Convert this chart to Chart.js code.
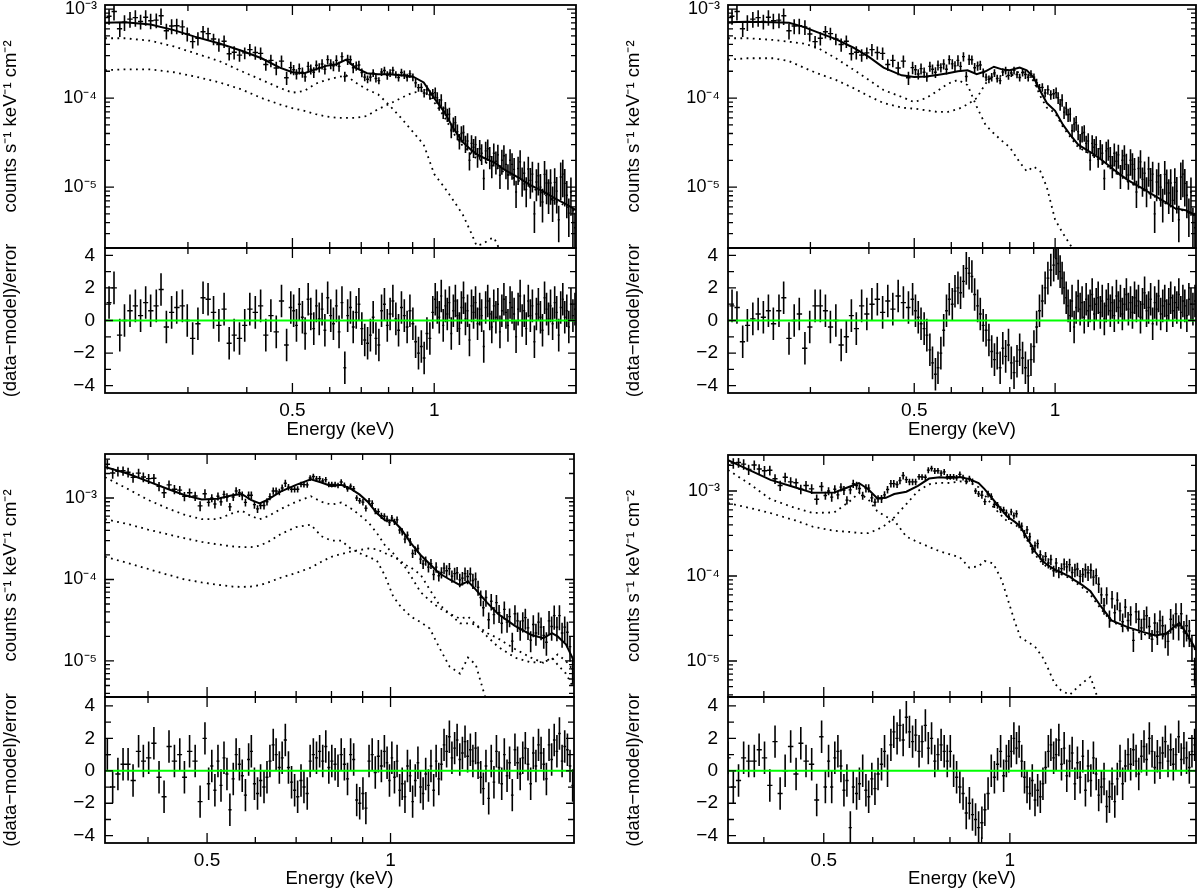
<!DOCTYPE html>
<html>
<head>
<meta charset="utf-8">
<script src="https://cdn.jsdelivr.net/npm/chart.js@4.4.1/dist/chart.umd.min.js"></script>
<style>
  body { margin: 0; background: #fff; width: 1200px; height: 890px; position: relative; overflow: hidden; }
  canvas { position: absolute; }
</style>
</head>
<body>
<script>
// ---- top row spectrum (same data, two models) : counts in units of 1e-4 ----
var topE = [0.204,0.209,0.215,0.220,0.226,0.232,0.238,0.244,0.250,0.257,0.263,0.270,0.277,0.284,0.292,0.299,0.307,0.315,0.323,0.331,0.340,0.349,0.358,0.367,0.376,0.386,0.396,0.406,0.417,0.428,0.439,0.450,0.462,0.474,0.486,0.496,
  0.503,0.510,0.517,0.525,0.532,0.540,0.547,0.555,0.562,0.570,0.578,0.586,0.594,0.603,0.611,0.620,0.628,0.637,0.646,0.655,
  0.664,0.673,0.683,0.692,0.702,0.712,0.722,0.732,0.742,0.752,0.763,0.773,0.784,0.795,0.806,0.817,0.829,0.840,0.852,0.864,
  0.876,0.888,0.901,0.913,0.926,0.939,0.952,0.965,0.979,0.993,
  1.005,1.015,1.025,1.035,1.045,1.056,1.066,1.077,1.087,1.098,1.109,1.120,1.131,1.142,1.154,1.165,1.177,1.188,1.200,1.212,
  1.224,1.236,1.249,1.261,1.274,1.286,1.299,1.312,1.325,1.338,1.352,1.365,1.379,1.392,1.406,1.420,1.434,1.449,1.463,1.478,
  1.492,1.507,1.522,1.537,1.553,1.568,1.584,1.600,1.616,1.632,1.648,1.664,1.681,1.698,1.715,1.732,1.749,1.766,1.784,1.802,
  1.820,1.838,1.856,1.875,1.893,1.912,1.931,1.951,1.970,1.990];
var topCounts = [8.3,9.4,6.0,7.1,7.7,8.0,7.25,8.1,7.4,7.5,8.4,5.7,6.45,6.5,6.3,5.25,4.3,4.7,5.55,5.3,4.6,4.0,4.35,3.15,3.27,3.04,3.22,3.5,3.25,3.18,2.38,2.65,2.18,2.6,1.69,2.2,
  2.08,1.86,2.14,1.95,1.73,2.27,2.11,1.95,2.34,2.2,2.41,2.11,2.7,2.42,2.3,2.65,2.27,2.92,1.75,2.71,
  2.69,2.19,2.3,2.35,1.93,1.72,1.63,1.72,1.92,1.66,1.57,1.96,2.04,1.8,1.91,2.05,1.84,1.7,1.94,1.84,
  1.71,1.87,1.72,1.48,1.31,1.32,1.14,1.24,1.09,1.12,
  1.15,1.01,0.85,0.95,0.695,0.77,0.65,0.66,0.43,0.51,0.53,0.42,0.33,0.4,0.41,0.31,0.33,0.2,0.31,0.28,
  0.3,0.22,0.27,0.24,0.125,0.255,0.27,0.22,0.175,0.24,0.195,0.23,0.136,0.2,0.225,0.18,0.137,0.2,0.18,0.158,
  0.088,0.162,0.192,0.122,0.143,0.094,0.16,0.119,0.14,0.05,0.114,0.134,0.1,0.068,0.139,0.111,0.086,0.111,0.071,0.113,
  0.09,0.043,0.13,0.14,0.11,0.081,0.051,0.088,0.04,0.035];
var topErrPct = [20,21,19,20,20,21,19,20,20,19,21,20,19,20,19,18,
  16,17,16,16,15,17,16,16,17,16,15,16,17,16,15,16,17,16,17,16,
  13,13,14,13,12,13,13,14,13,12,13,13,12,13,13,14,13,12,13,13,12,13,12,12,
  11,10,10,11,10,10,9,10,10,11,10,10,9,10,10,11,10,10,10,11,10,11,11,12,12,13,
  14,15,15,16,16,17,17,18,18,19,19,20,20,21,21,22,22,23,23,24,24,25,25,26,26,27,27,28,28,29,
  29,30,30,31,31,32,32,33,33,34,34,35,35,36,36,37,37,38,38,39,39,40,40,41,41,42,42,43,43,44,
  44,44,45,45,45,45,46,46,47,47];
var residTL = [1.1,2.0,-0.9,0.0,0.6,0.9,0.3,1.1,0.6,0.9,1.9,-0.4,0.5,0.8,0.9,0.0,-1.1,-0.2,1.4,1.3,0.5,-0.3,0.7,-1.4,-0.9,-1.1,-0.3,0.7,0.5,0.9,-0.9,0.3,-0.7,1.2,-1.5,0.8,
  0.6,-0.3,1.0,0.2,-0.8,1.3,0.4,-0.5,0.9,0.1,0.7,-0.6,1.4,0.3,-0.2,0.9,-0.7,1.1,-2.9,0.3,
  0.8,-0.4,0.5,1.0,-0.5,-1.2,-1.4,-0.9,0.2,-1.1,-1.5,0.6,1.0,-0.3,0.4,1.2,0.1,-0.6,0.8,0.3,
  -0.4,0.6,-0.2,-1.3,-2.0,-1.6,-2.3,-0.8,-1.1,0.5,
  1.3,0.8,0.2,1.5,-0.3,0.9,0.4,1.1,-0.8,0.6,1.2,0.3,-0.5,0.8,1.4,0.1,0.6,-1.2,0.9,0.5,
  1.1,-0.2,0.7,0.3,-1.6,0.8,1.2,0.4,-0.4,0.9,0.2,1.0,-0.7,0.6,1.3,0.5,-0.3,1.1,0.8,0.4,
  -1.0,0.7,1.5,0.0,0.6,-0.5,1.2,0.3,0.9,-1.3,0.4,1.0,0.2,-0.6,1.4,0.7,0.1,0.9,-0.2,1.1,
  0.5,-0.9,0.8,1.3,0.2,0.6,-0.4,1.0,0.3,0.7];
var residTR = [0.9,0.8,-1.3,-0.3,0.1,0.4,0.2,0.6,-0.2,0.6,1.4,-1.1,0.0,0.4,-1.7,-0.4,0.9,0.9,0.6,-0.4,0.0,-1.5,-1.0,0.3,-0.5,0.9,0.4,1.0,1.3,0.5,1.2,0.7,1.5,1.1,0.8,1.3,
  0.6,0.2,-0.2,-0.5,-0.9,-1.8,-2.6,-3.3,-2.9,-2.0,-0.6,0.6,1.3,1.0,1.8,2.0,1.7,2.4,3.2,2.9,
  2.7,1.6,0.9,0.4,-0.3,-0.6,-1.2,-1.9,-2.4,-2.0,-2.9,-1.7,-2.2,-1.5,-2.6,-3.2,-2.5,-1.8,-2.3,-2.9,
  -3.4,-2.4,-1.6,-0.4,0.6,1.2,2.0,2.6,3.1,3.4,
  3.8,3.5,3.0,2.6,2.0,1.4,0.9,0.3,1.2,-0.4,0.8,1.5,0.7,1.1,0.2,1.3,0.6,0.9,1.6,0.4,
  1.0,1.4,0.5,1.2,0.1,0.9,1.3,0.6,1.1,0.3,1.5,0.8,1.2,0.4,1.0,1.6,0.7,1.1,0.5,1.4,
  0.9,1.2,0.2,1.0,1.7,0.6,0.8,1.3,-0.2,1.1,0.7,1.5,0.4,0.9,1.2,0.3,1.0,1.4,0.6,1.1,
  0.8,1.6,0.5,1.2,0.9,0.3,1.3,1.0,0.7,1.2];

// ---- bottom row spectrum ----
var botE = [0.343,0.350,0.357,0.364,0.371,0.378,0.386,0.393,0.401,0.409,0.417,0.425,0.433,0.442,0.451,0.459,0.468,0.478,0.487,0.496,
  0.503,0.509,0.515,0.521,0.527,0.533,0.539,0.545,0.552,0.558,0.565,0.571,0.578,0.585,0.591,0.598,0.605,0.612,0.620,0.627,
  0.634,0.642,0.649,0.657,0.664,0.672,0.680,0.688,0.696,0.704,0.713,0.721,0.730,0.738,0.747,0.756,0.765,0.774,0.783,0.792,
  0.801,0.811,0.820,0.830,0.840,0.850,0.860,0.870,0.880,0.890,0.901,0.911,0.922,0.933,0.944,0.955,0.966,0.977,0.987,0.996,
  1.005,1.015,1.025,1.035,1.045,1.056,1.066,1.077,1.087,1.098,1.109,1.120,1.131,1.142,1.154,1.165,1.177,1.188,1.200,1.212,
  1.224,1.236,1.249,1.261,1.274,1.286,1.299,1.312,1.325,1.338,1.352,1.365,1.379,1.392,1.406,1.420,1.434,1.449,1.463,1.478,
  1.492,1.507,1.522,1.537,1.553,1.568,1.584,1.600,1.616,1.632,1.648,1.664,1.681,1.698,1.715,1.732,1.749,1.766,1.784,1.802,
  1.820,1.838,1.856,1.875,1.893,1.912,1.931,1.951,1.970,1.990];
var botCounts = [26.0,20.3,21.3,21.6,20.7,17.9,20.2,18.1,17.3,17.5,13.9,11.6,14.5,12.8,12.5,10.5,11.6,10.6,8.0,11.3,
  8.85,10.0,8.46,10.5,9.0,11.1,10.2,7.8,10.3,12.2,11.6,10.7,8.85,10.8,10.8,8.3,7.36,8.1,8.1,9.0,
  10.4,12.2,12.2,11.9,13.3,15.2,13.6,12.8,12.8,12.8,14.7,14.6,14.5,17.6,18.4,17.2,17.3,16.2,16.8,14.7,
  14.7,14.7,14.3,15.7,14.4,13.0,14.0,13.0,10.0,9.24,8.9,7.5,9.2,8.6,6.94,6.8,6.06,5.98,5.54,5.0,
  5.68,5.11,5.4,4.05,3.86,3.13,3.5,2.9,2.08,2.27,2.4,1.78,1.55,1.7,1.42,1.56,1.15,1.42,1.11,1.22,
  1.38,1.28,1.36,1.1,1.18,1.21,0.99,1.04,1.18,1.09,1.17,0.97,1.01,0.8,0.6,0.45,0.6,0.32,0.54,0.37,
  0.52,0.39,0.29,0.43,0.3,0.35,0.175,0.38,0.31,0.245,0.31,0.34,0.255,0.18,0.28,0.22,0.3,0.26,0.205,0.17,
  0.31,0.265,0.36,0.26,0.36,0.22,0.26,0.225,0.15,0.08];
var botErrPct = [14,15,14,13,14,14,13,14,14,13,13,14,13,13,12,13,13,13,14,13,
  11,11,12,11,11,11,12,11,11,11,11,12,11,11,11,11,11,10,11,10,
  10,10,10,9,10,10,9,9,9,9,8,8,8,8,8,8,8,8,8,8,
  8,8,8,8,8,8,8,8,8,8,9,9,9,9,9,9,9,9,9,9,
  9,9,10,10,10,11,11,11,12,12,12,13,13,13,14,14,15,15,15,16,
  16,17,17,17,18,18,19,19,19,20,20,21,21,21,22,22,23,23,23,24,
  24,25,25,25,26,26,27,27,27,28,28,29,29,29,30,30,31,31,31,32,
  32,33,33,33,34,34,35,35,35,36];
var residBL = [1.0,-1.0,-0.2,0.4,0.4,-0.6,1.2,0.6,0.8,1.7,-0.4,-1.6,1.5,0.6,1.0,-0.4,1.2,0.6,-1.9,2.0,
  -0.8,0.3,-1.2,0.6,-0.9,0.8,-0.2,-2.4,-0.5,1.0,0.4,-0.3,-1.5,0.7,1.2,-0.8,-1.4,-0.6,-1.0,-0.4,
  0.6,1.6,1.0,0.2,0.8,1.9,0.2,-0.7,-1.2,-1.6,-0.6,-1.0,-1.4,0.6,1.0,0.8,1.2,0.6,1.5,0.2,
  0.6,0.4,0.0,1.0,0.4,-0.5,1.0,0.7,-1.8,-2.0,-1.4,-2.3,0.6,1.0,-0.1,0.9,0.3,1.2,0.5,-0.6,
  0.8,-0.4,0.6,-1.2,-0.8,-1.6,0.3,-0.3,-1.9,-0.6,0.5,-1.0,-1.4,-0.2,-0.9,0.3,-1.2,0.6,-0.5,0.4,
  1.6,1.2,2.1,0.8,1.4,1.9,0.7,1.1,1.8,0.9,1.3,0.6,1.4,0.5,-0.4,-1.1,0.3,-1.7,0.6,-0.7,
  1.2,0.2,-0.8,1.0,-0.3,0.5,-1.5,1.3,0.5,-0.2,0.8,1.4,0.4,-0.8,1.1,0.3,1.6,1.1,0.4,-0.5,
  1.6,0.7,1.9,1.2,2.3,0.6,1.5,1.3,0.3,-0.9];
var residBR = [-1.0,0.8,-1.0,-0.6,0.8,0.6,0.6,1.3,0.8,-0.9,1.8,-1.4,0.0,1.5,-0.2,1.7,0.6,0.4,-1.8,2.1,
  -1.0,0.6,-1.0,0.8,1.2,0.3,-1.2,-0.6,-3.5,-1.0,-1.4,-0.8,0.0,-1.2,-1.6,-0.5,-1.1,-0.2,0.4,1.2,
  0.0,1.6,2.4,2.0,2.8,1.9,3.3,2.4,1.8,2.2,1.2,1.8,2.8,1.4,2.0,0.6,1.0,1.6,1.2,0.6,
  1.2,0.0,-0.4,-1.0,-1.4,-2.6,-2.0,-2.7,-3.0,-3.5,-3.2,-2.4,-1.4,0.0,-0.4,0.4,1.2,-0.3,0.6,0.9,
  1.2,2.0,1.4,1.8,0.6,-0.4,-1.0,-1.4,-0.6,-1.8,-1.2,-1.6,-0.8,0.2,1.2,1.6,0.8,1.0,1.9,0.4,
  1.4,-0.3,0.6,1.1,-0.8,0.5,-0.4,0.9,-1.2,0.3,-0.6,0.8,-0.2,-1.5,-1.0,-0.5,-2.2,-1.6,-0.8,-1.9,
  -0.5,0.6,-0.8,0.3,1.0,0.4,1.3,0.6,-0.2,0.9,1.5,0.7,2.0,1.2,0.2,0.9,0.5,1.1,1.8,0.6,
  1.3,0.4,1.0,2.1,0.7,1.4,0.8,0.2,1.2,1.6];

// ---- models and dotted components (units of 1e-4) ----
var gridTL = [0.2,0.22,0.25,0.28,0.31,0.35,0.39,0.43,0.47,0.5,0.53,0.56,0.59,0.62,0.65,0.68,0.72,0.76,0.8,0.85,0.9,0.95,1.0,1.05,1.1,1.15,1.2,1.23,1.27,1.31,1.34,1.37,1.4,1.5,1.6,1.7,1.8,1.9,2.0];
var modelTL = [7.0,7.1,6.7,5.8,4.9,4.1,3.4,2.8,2.2,1.95,1.9,2.1,2.3,2.4,2.7,2.2,1.9,1.85,1.85,1.8,1.75,1.5,1.0,0.7,0.45,0.32,0.26,0.235,0.215,0.2,0.19,0.175,0.16,0.13,0.105,0.09,0.075,0.065,0.055];
var compTL1 = [4.7,4.7,4.4,3.8,3.2,2.6,2.0,1.6,1.3,1.15,1.2,1.45,1.6,1.7,1.8,1.5,1.25,1.1,0.85,0.6,0.42,0.3,0.14,0.1,0.07,0.049,0.03,0.022,0.023,0.026,0.027,0.021,0.012,null,null,null,null,null,null];
var compTL2 = [2.06,2.1,2.1,1.95,1.75,1.5,1.25,1.0,0.85,0.77,0.72,0.66,0.62,0.6,0.6,0.6,0.63,0.75,0.85,1.0,1.15,1.2,0.9,0.62,0.4,0.29,0.23,0.21,0.195,0.18,0.17,0.16,0.15,0.12,0.1,0.085,0.07,0.062,0.053];

var gridTR = [0.2,0.22,0.25,0.27,0.29,0.31,0.34,0.37,0.4,0.43,0.47,0.5,0.53,0.56,0.59,0.62,0.65,0.68,0.71,0.74,0.77,0.8,0.84,0.87,0.9,0.93,0.96,1.0,1.04,1.08,1.12,1.2,1.26,1.35,1.43,1.52,1.62,1.72,1.8,1.9,2.0];
var modelTR = [7.1,7.2,7.1,7.0,6.3,5.5,4.6,3.7,2.9,2.2,1.8,1.72,1.75,1.82,1.9,2.0,2.05,1.85,2.0,2.25,2.1,2.05,2.2,2.05,1.7,1.2,0.88,0.72,0.5,0.38,0.3,0.24,0.2,0.15,0.12,0.1,0.082,0.068,0.058,0.055,0.048];
var compTR1 = [4.7,4.7,4.5,4.3,4.1,3.7,2.8,2.1,1.6,1.23,1.03,0.9,1.0,1.2,1.45,1.6,1.4,0.8,0.5,0.4,0.33,0.28,0.19,0.15,0.17,0.15,0.1,0.043,0.03,0.022,0.018,null,null,null,null,null,null,null,null,null,null];
var compTR2 = [2.7,2.8,2.8,2.6,2.2,1.9,1.6,1.3,1.05,0.88,0.78,0.76,0.73,0.7,0.7,0.75,0.85,1.0,1.45,1.85,1.75,1.75,2.0,1.9,1.55,1.05,0.78,0.68,0.47,0.36,0.28,0.23,0.19,0.145,0.115,0.097,0.08,0.066,0.057,0.054,0.047];

var gridBL = [0.34,0.37,0.4,0.43,0.46,0.49,0.52,0.55,0.57,0.59,0.61,0.63,0.66,0.7,0.74,0.77,0.8,0.83,0.86,0.89,0.92,0.95,0.98,1.01,1.04,1.08,1.12,1.16,1.2,1.25,1.3,1.34,1.38,1.44,1.5,1.6,1.7,1.78,1.84,1.88,1.94,2.0];
var modelBL = [24,20,16,13,10.8,9.6,9.8,10.8,11.2,9.5,8.6,9.6,12,14.5,17,15.5,14,14.5,13,11,8.8,6.5,5.3,5.3,4.2,2.8,2.0,1.55,1.2,1.0,0.85,0.95,0.75,0.52,0.38,0.27,0.21,0.19,0.22,0.2,0.16,0.1];
var compBL1 = [18,13,9.5,7.5,6.2,5.5,5.5,6.5,7.0,6.0,5.5,6.0,7.3,9.0,10.5,9.0,8.3,8.8,7.5,6.2,5.0,3.7,2.6,2.1,1.6,1.4,1.15,0.75,0.5,0.38,0.29,0.29,0.28,0.2,0.15,0.11,0.096,0.097,0.105,0.12,0.1,0.075];
var compBL2 = [5.5,4.8,4.1,3.6,3.2,2.9,2.7,2.55,2.5,2.5,2.6,2.9,3.6,4.4,4.7,3.4,3.0,3.0,2.4,2.1,1.9,1.7,1.1,0.62,0.46,0.35,0.3,0.25,0.15,0.085,0.07,0.11,0.09,0.03,null,null,null,null,null,null,null,null];
var compBL3 = [1.9,1.6,1.35,1.15,1.0,0.92,0.86,0.82,0.81,0.82,0.85,0.92,1.05,1.2,1.4,1.65,1.9,2.05,2.2,2.3,2.4,2.35,2.1,1.9,1.7,1.1,0.7,0.55,0.45,0.38,0.33,0.35,0.28,0.22,0.19,0.14,0.11,0.095,0.11,0.09,0.07,0.045];

var gridBR = [0.35,0.38,0.41,0.45,0.48,0.52,0.55,0.57,0.59,0.61,0.63,0.65,0.68,0.71,0.74,0.77,0.8,0.83,0.86,0.89,0.91,0.94,0.97,0.99,1.02,1.04,1.08,1.1,1.13,1.15,1.18,1.21,1.25,1.27,1.31,1.35,1.4,1.46,1.55,1.64,1.72,1.79,1.84,1.88,1.94,2.0];
var modelBR = [23,17.5,13.5,11,9.5,9.6,11.2,12.4,10.5,8.2,8.3,9.2,9.8,11.5,14,14.5,14.2,14.6,13.8,12.4,10.5,7.9,6.0,5.0,4.3,3.8,2.4,1.9,1.5,1.35,1.2,1.1,0.98,0.9,0.78,0.66,0.45,0.3,0.25,0.22,0.2,0.21,0.25,0.28,0.2,0.135];
var compBR1 = [17.7,12,8.0,6.3,5.5,5.6,7.5,9.5,8.0,5.8,5.0,4.5,2.9,2.5,2.2,1.95,1.8,1.66,1.25,1.3,1.5,1.4,0.9,0.56,0.28,0.19,0.16,0.145,0.11,0.085,0.055,0.045,0.04,0.045,0.055,0.065,0.03,null,null,null,null,null,null,null,null,null];
var compBR2 = [7.2,6.3,5.5,4.5,3.8,3.4,3.3,3.2,3.2,3.5,4.0,4.9,7.0,10.0,12.0,12.5,12.4,13,12.6,11.1,9.0,6.5,5.1,4.4,4.0,3.6,2.25,1.75,1.4,1.27,1.15,1.05,0.94,0.86,0.73,0.6,0.42,0.29,0.24,0.21,0.19,0.2,0.24,0.27,0.19,0.13];

// ---- tick values ----
var xLabelTicks = [0.5, 1];
var xMinorTicks = [0.3, 0.4, 0.6, 0.7, 0.8, 0.9];
var logLabelTicks = [1e-5, 1e-4, 1e-3];
var residLabelTicks = [-4, -2, 0, 2, 4];
var residMinorTicks = [-3, -1, 1, 3];

Chart.defaults.font.family = "'Liberation Sans', Arial, sans-serif";
Chart.defaults.font.size = 19;
Chart.defaults.color = '#000';
var TITLE_FONT = {size: 18.5};

var SUP = {'-': '\u207B', '0': '\u2070', '1': '\u00B9', '2': '\u00B2', '3': '\u00B3', '4': '\u2074', '5': '\u2075', '6': '\u2076'};
function powLabel(v) {
  var e = String(Math.round(Math.log10(v)));
  return '10' + e.split('').map(function (c) { return SUP[c]; }).join('');
}

var logMinor = [];
[1e-6, 1e-5, 1e-4, 1e-3].forEach(function (d) { for (var k = 2; k < 10; k++) logMinor.push(k * d); });

function addCanvas(x, y, w, h) {
  var c = document.createElement('canvas');
  c.width = w; c.height = h;
  c.style.left = x + 'px'; c.style.top = y + 'px';
  c.style.width = w + 'px'; c.style.height = h + 'px';
  document.body.appendChild(c);
  return c;
}

// frame + inward ticks on all four sides
function frame(t) {
  return {
    id: 'frame',
    afterDatasetsDraw: function (chart) {
      var ctx = chart.ctx, a = chart.chartArea, sx = chart.scales.x, sy = chart.scales.y;
      ctx.save();
      ctx.strokeStyle = '#000';
      ctx.lineWidth = 1.3;
      ctx.beginPath();
      function xt(list, len) {
        list.forEach(function (v) {
          if (v <= sx.min || v >= sx.max) return;
          var p = sx.getPixelForValue(v);
          ctx.moveTo(p, a.bottom); ctx.lineTo(p, a.bottom - len);
          ctx.moveTo(p, a.top); ctx.lineTo(p, a.top + len);
        });
      }
      function yt(list, len) {
        list.forEach(function (v) {
          if (v <= sy.min || v >= sy.max) return;
          var p = sy.getPixelForValue(v);
          ctx.moveTo(a.left, p); ctx.lineTo(a.left + len, p);
          ctx.moveTo(a.right, p); ctx.lineTo(a.right - len, p);
        });
      }
      xt(xLabelTicks, 10); xt(xMinorTicks, 6);
      yt(t.yMajor, t.majorLen); yt(t.yMinor, t.minorLen);
      ctx.stroke();
      ctx.lineWidth = 1.8;
      ctx.strokeRect(a.left, a.top, a.right - a.left, a.bottom - a.top);
      ctx.restore();
    }
  };
}

function pts(E, vals, scale) {
  return E.map(function (e, i) { return {x: e, y: vals[i] == null ? null : vals[i] * scale}; });
}

// error crosses: horizontal bar across the bin, vertical bar over the error range
function crossSets(E, val, lo, hi) {
  var h = [], v = [];
  E.forEach(function (e, i) {
    var l = i > 0 ? (E[i - 1] + e) / 2 : e - (E[1] - E[0]) / 2;
    var r = i < E.length - 1 ? (e + E[i + 1]) / 2 : e + (e - E[i - 1]) / 2;
    h.push({x: l, y: val[i]}, {x: r, y: val[i]}, {x: e, y: null});
    v.push({x: e, y: lo[i]}, {x: e, y: hi[i]}, {x: e, y: null});
  });
  return [
    {data: h, borderColor: '#000', borderWidth: 1.4},
    {data: v, borderColor: '#000', borderWidth: 1.6}
  ];
}

function zeroPad(s) { s.paddingLeft = 0; s.paddingRight = 0; s.paddingTop = 0; s.paddingBottom = 0; }

function baseOptions(pad) {
  return {
    responsive: false, animation: false, devicePixelRatio: 1, events: [],
    layout: {padding: pad},
    elements: {point: {radius: 0}, line: {tension: 0, fill: false, borderCapStyle: 'butt'}},
    plugins: {legend: {display: false}, tooltip: {enabled: false}}
  };
}

var panels = [
  {box: {ox: 0, oy: 0, left: 105, right: 576, top: 5, div: 248, bottom: 393, titlePad: 4},
   xRange: [0.2, 2.0], yRange: [2.07e-6, 1.11e-3], rRange: [-4.45, 4.45],
   E: topE, counts: topCounts, errPct: topErrPct, resid: residTL,
   grid: gridTL, model: modelTL, comps: [compTL1, compTL2]},
  {box: {ox: 623, oy: 0, left: 728, right: 1196, top: 5, div: 248, bottom: 393, titlePad: 4},
   xRange: [0.2, 2.0], yRange: [2.07e-6, 1.11e-3], rRange: [-4.45, 4.45],
   E: topE, counts: topCounts, errPct: topErrPct, resid: residTR,
   grid: gridTR, model: modelTR, comps: [compTR1, compTR2]},
  {box: {ox: 0, oy: 445, left: 105, right: 574, top: 454, div: 697, bottom: 843, titlePad: 0},
   xRange: [0.34, 2.0], yRange: [3.61e-6, 3.47e-3], rRange: [-4.45, 4.55],
   E: botE, counts: botCounts, errPct: botErrPct, resid: residBL,
   grid: gridBL, model: modelBL, comps: [compBL1, compBL2, compBL3]},
  {box: {ox: 623, oy: 445, left: 728, right: 1196, top: 455, div: 697, bottom: 843, titlePad: 0},
   xRange: [0.35, 2.0], yRange: [3.77e-6, 2.65e-3], rRange: [-4.45, 4.55],
   E: botE, counts: botCounts, errPct: botErrPct, resid: residBR,
   grid: gridBR, model: modelBR, comps: [compBR1, compBR2]}
];

panels.forEach(function (p) {
  var b = p.box;
  var w = b.ox === 0 ? 600 : 1200 - b.ox;
  var axisW = b.left - b.ox;
  var padR = w - (b.right - b.ox);

  // ----- spectrum -----
  var hS = b.div + 12 - b.oy;
  var val = p.counts.map(function (c) { return c * 1e-4; });
  var err = val.map(function (v, i) { return v * p.errPct[i] / 100; });
  var sets = [{data: pts(p.grid, p.model, 1e-4), borderColor: '#000', borderWidth: 2}];
  p.comps.forEach(function (c) {
    sets.push({data: pts(p.grid, c, 1e-4), borderColor: '#000', borderWidth: 1.8, borderDash: [1.8, 4.4]});
  });
  sets = sets.concat(crossSets(p.E, val,
    val.map(function (v, i) { return v - err[i]; }),
    val.map(function (v, i) { return v + err[i]; })));

  var o1 = baseOptions({left: 0, right: padR, top: b.top - b.oy, bottom: 12});
  o1.scales = {
    x: {type: 'logarithmic', min: p.xRange[0], max: p.xRange[1], bounds: 'data', display: false},
    y: {type: 'logarithmic', min: p.yRange[0], max: p.yRange[1], bounds: 'data', position: 'left',
        grid: {display: false, drawTicks: false}, border: {display: false},
        ticks: {padding: 8, autoSkip: false, font: {size: 18}, callback: function (v) { return powLabel(v); }},
        afterBuildTicks: function (s) {
          s.ticks = logLabelTicks.filter(function (v) { return v >= s.min && v <= s.max; })
            .map(function (v) { return {value: v}; });
        },
        afterFit: function (s) { s.width = axisW; zeroPad(s); },
        title: {display: true, text: 'counts s\u207B\u00B9 keV\u207B\u00B9 cm\u207B\u00B2', font: TITLE_FONT, padding: {top: 0, bottom: 0}}}
  };
  new Chart(addCanvas(b.ox, b.oy, w, hS), {
    type: 'line', data: {datasets: sets}, options: o1,
    plugins: [frame({yMajor: logLabelTicks.concat([1e-6]), yMinor: logMinor, majorLen: 9, minorLen: 5})]
  });

  // ----- residuals -----
  var cTop = b.div - 12;
  var cBot = b.oy + 445;
  var rsets = [{data: [{x: p.xRange[0], y: 0}, {x: p.xRange[1], y: 0}], borderColor: '#00ff00', borderWidth: 2}];
  rsets = rsets.concat(crossSets(p.E, p.resid,
    p.resid.map(function (r) { return r - 1; }),
    p.resid.map(function (r) { return r + 1; })));
  var xH = cBot - b.bottom;
  var o2 = baseOptions({left: 0, right: padR, top: 12, bottom: 0});
  o2.scales = {
    x: {type: 'logarithmic', min: p.xRange[0], max: p.xRange[1], bounds: 'data', position: 'bottom',
        grid: {display: false, drawTicks: false}, border: {display: false},
        ticks: {padding: 6, autoSkip: false, maxRotation: 0, callback: function (v) { return String(v); }},
        afterBuildTicks: function (s) {
          s.ticks = xLabelTicks.map(function (v) { return {value: v}; });
        },
        afterFit: function (s) { s.height = xH; zeroPad(s); },
        title: {display: true, text: 'Energy (keV)', font: TITLE_FONT, padding: {top: 0, bottom: b.titlePad}}},
    y: {type: 'linear', min: p.rRange[0], max: p.rRange[1], bounds: 'data', position: 'left',
        grid: {display: false, drawTicks: false}, border: {display: false},
        ticks: {padding: 10, autoSkip: false,
                callback: function (v) { return v < 0 ? '\u2212' + Math.abs(v) : String(v); }},
        afterBuildTicks: function (s) {
          s.ticks = residLabelTicks.map(function (v) { return {value: v}; });
        },
        afterFit: function (s) { s.width = axisW; zeroPad(s); },
        title: {display: true, text: '(data\u2212model)/error', font: TITLE_FONT, padding: {top: 0, bottom: 0}}}
  };
  new Chart(addCanvas(b.ox, cTop, w, cBot - cTop), {
    type: 'line', data: {datasets: rsets}, options: o2,
    plugins: [frame({yMajor: residLabelTicks, yMinor: residMinorTicks, majorLen: 8, minorLen: 6})]
  });
});
</script>
</body>
</html>
